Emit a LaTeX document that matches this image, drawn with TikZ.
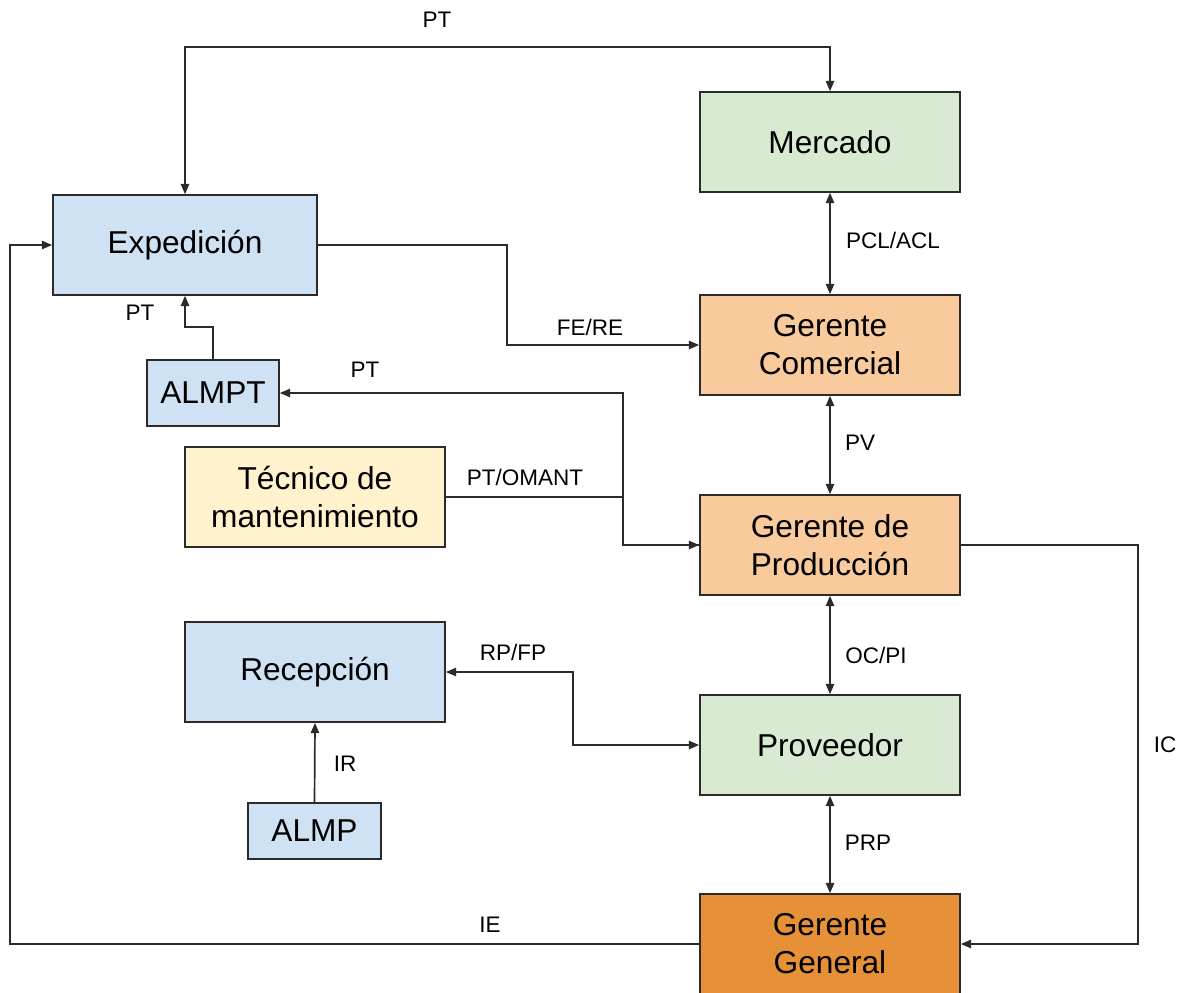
\documentclass[tikz,border=0pt]{standalone}
\usepackage{fontspec}
\setmainfont{Liberation Sans}
\usepackage{xcolor}
\usepackage{tikz}
\usetikzlibrary{arrows.meta,calc}

\definecolor{boxgreen}{HTML}{D9EAD3}
\definecolor{boxblue}{HTML}{CFE2F3}
\definecolor{boxorange}{HTML}{F9CB9C}
\definecolor{boxyellow}{HTML}{FFF2CC}
\definecolor{boxboss}{HTML}{E69138}
\definecolor{wire}{HTML}{2B2B2B}

\begin{document}
\begin{tikzpicture}[
  x=0.025cm, y=-0.025cm,
  unit/.style={draw=wire, line width=1.1pt, minimum width=6.5cm, minimum height=2.5cm,
    align=center, font=\fontsize{22.5}{27}\selectfont},
  store/.style={unit, minimum width=3.3cm, minimum height=1.65cm},
  link/.style={draw=wire, line width=1.2pt, >={Triangle[length=2.6mm,width=2.1mm]}},
  tag/.style={font=\fontsize{16}{19}\selectfont}
]
\useasboundingbox (0,0) rectangle (1182,992);

% boxes
\node[unit, fill=boxgreen] (merc) at (830,142) {Mercado};
\node[unit, fill=boxblue, minimum width=6.6cm] (exped) at (185,245) {Expedición};
\node[unit, fill=boxorange] (gcom) at (830,345) {Gerente\\Comercial};
\node[store, fill=boxblue] (almpt) at (213,393) {ALMPT};
\node[unit, fill=boxyellow] (tecn) at (315,497) {Técnico de\\mantenimiento};
\node[unit, fill=boxorange] (gprod) at (830,545) {Gerente de\\Producción};
\node[unit, fill=boxblue] (recep) at (315,672) {Recepción};
\node[unit, fill=boxgreen] (prov) at (830,745) {Proveedor};
\node[store, fill=boxblue, minimum width=3.325cm, minimum height=1.4cm] (almp) at (314.5,831) {ALMP};
\node[unit, fill=boxboss] (ggen) at (830,944) {Gerente\\General};

% bend points
\coordinate (ptTop) at (500,47);
\coordinate (feRe) at (507,300);
\coordinate (junc) at (623,520);
\coordinate (rpFp) at (573,710);
\coordinate (icRight) at (1138,745);
\coordinate (ieLeft) at (10,600);

% connectors
\draw[link,<->] (exped.north) |- (ptTop) -| (merc.north);
\draw[link,<->] (merc.south) -- (gcom.north);
\draw[link,->] (exped.east) -| (feRe) |- (gcom.west);
\draw[link,->] (almpt.north) -- ++(0,-32) -| (exped.south);
\draw[link,->] (gprod.west) -| (junc) |- (almpt.east);
\draw[link,->] (tecn.east) -| (junc) |- (gprod.west);
\draw[link,<->] (gcom.south) -- (gprod.north);
\draw[link,<->] (gprod.south) -- (prov.north);
\draw[link,<->] (recep.east) -| (rpFp) |- (prov.west);
\draw[link,->] (almp.north) -- (recep.south);
\draw[link,<->] (prov.south) -- (ggen.north);
\draw[link,->] (gprod.east) -| (icRight) |- (ggen.east);
\draw[link,->] (ggen.west) -| (ieLeft) |- (exped.west);

% labels
\node[tag] (tPt) at (437,20) {PT};
\node[tag] (tPcl) at (893,240) {PCL/ACL};
\node[tag] (tFe) at (590,327) {FE/RE};
\node[tag] (tPtA) at (140,313) {PT};
\node[tag] (tPtB) at (365,370) {PT};
\node[tag] (tOmant) at (525,477) {PT/OMANT};
\node[tag] (tPv) at (860,443) {PV};
\node[tag] (tOc) at (876,655) {OC/PI};
\node[tag] (tRp) at (513,652) {RP/FP};
\node[tag] (tIr) at (345,764) {IR};
\node[tag] (tPrp) at (868,843) {PRP};
\node[tag] (tIc) at (1165,745) {IC};
\node[tag] (tIe) at (490,925) {IE};
\end{tikzpicture}
\end{document}
